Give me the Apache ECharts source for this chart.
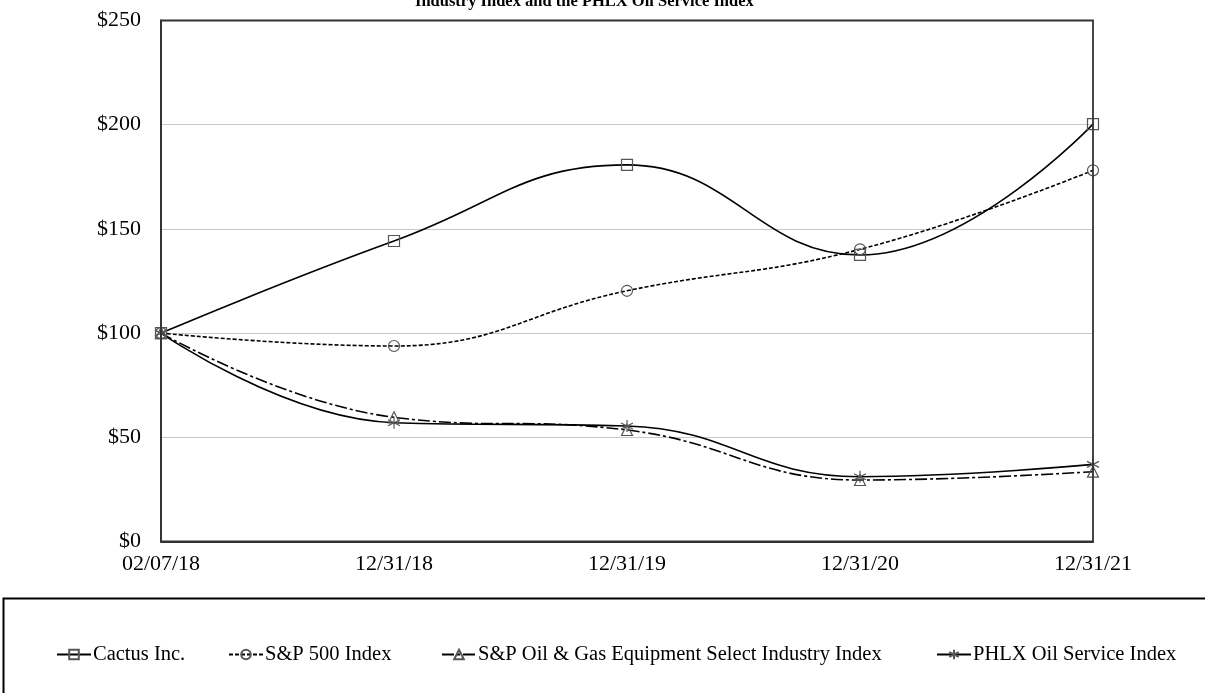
<!DOCTYPE html>
<html><head><meta charset="utf-8">
<script src="https://cdn.jsdelivr.net/npm/echarts@6/dist/echarts.min.js"></script>
<style>html,body{margin:0;padding:0;background:#fff}#c{width:1205px;height:693px}</style>
</head><body><div id="c"></div>
<script>
var categories = ['02/07/18', '12/31/18', '12/31/19', '12/31/20', '12/31/21'];
var cactus = [100, 144.2, 180.7, 137.5, 200.3];
var sp500 = [100, 93.8, 120.3, 140.2, 178.1];
var ogEquip = [100, 59.6, 53.5, 29.5, 33.5];
var phlx = [100, 57.0, 55.4, 31.1, 37.0];
var names = ['Cactus Inc.', 'S&P 500 Index', 'S&P Oil & Gas Equipment Select Industry Index', 'PHLX Oil Service Index'];
var titleText = 'Industry Index and the PHLX Oil Service Index';

var FONT = '"Liberation Serif", "Times New Roman", serif';
var starPath = 'path://M0,-6L0,6M-5.2,-3L5.2,3M-5.2,3L5.2,-3';
function mk(name, data, symbol, size, dash) {
  return {
    name: name, type: 'line', data: data, smooth: 0.45,
    symbol: symbol, symbolSize: size, showSymbol: true,
    lineStyle: { color: '#000', width: 1.6, type: dash },
    itemStyle: { color: 'transparent', borderColor: '#555', borderWidth: 1.2 },
    emphasis: { disabled: true }, z: 3
  };
}
var chart = echarts.init(document.getElementById('c'));
function leg(name, left) {
  return {
    data: [name], left: left, top: 639, itemWidth: 34, itemHeight: 12, itemGap: 4,
    textStyle: { fontFamily: FONT, fontSize: 20.5, color: '#000', padding: [0, 0, 0, -3] },
    selectedMode: false
  };
}
chart.setOption({
  animation: false,
  backgroundColor: '#fff',
  graphic: [
    { type: 'text', x: 415, y: -7, style: { text: titleText, font: 'bold 16.5px ' + FONT, fill: '#000', textAlign: 'left' } },
    { type: 'rect', shape: { x: 161, y: 20.5, width: 932, height: 521 }, style: { fill: 'none', stroke: '#333', lineWidth: 1.8 }, z: 10 },
    { type: 'rect', shape: { x: 3.5, y: 598.5, width: 1210, height: 200 }, style: { fill: 'none', stroke: '#000', lineWidth: 2 } }
  ],
  legend: [leg(names[0], 51), leg(names[1], 223), leg(names[2], 436), leg(names[3], 931)],
  grid: { left: 161, right: 112, top: 20.5, bottom: 151.5, show: false },
  xAxis: {
    type: 'category', data: categories, boundaryGap: false,
    axisLine: { lineStyle: { color: '#333', width: 1.8 } },
    axisTick: { show: false },
    axisLabel: { fontFamily: FONT, fontSize: 22, color: '#000', margin: 12, showMaxLabel: true, showMinLabel: true, interval: 0 },
    splitLine: { show: false }
  },
  yAxis: {
    type: 'value', min: 0, max: 250, interval: 50,
    axisLine: { show: true, lineStyle: { color: '#333', width: 1.8 } },
    axisTick: { show: false },
    axisLabel: { fontFamily: FONT, fontSize: 22, color: '#000', margin: 20, formatter: function (v) { return '$' + v; } },
    splitLine: { lineStyle: { color: '#c8c8c8', width: 1 } }
  },
  series: [
    mk(names[0], cactus, 'rect', 11, 'solid'),
    mk(names[1], sp500, 'circle', 11, [4, 2]),
    mk(names[2], ogEquip, 'triangle', 11, [12, 3, 3, 3]),
    mk(names[3], phlx, starPath, 12, 'solid')
  ]
});
</script></body></html>
